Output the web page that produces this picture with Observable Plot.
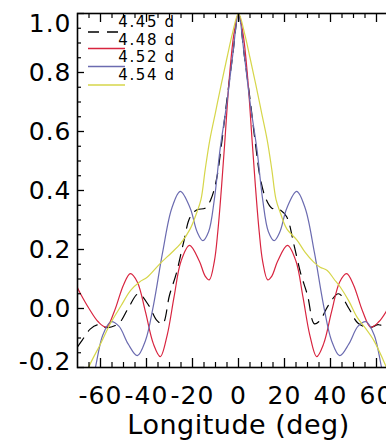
<!DOCTYPE html>
<html>
<head>
<meta charset="utf-8">
<script src="https://cdn.jsdelivr.net/npm/d3@7"></script>
<script src="https://cdn.jsdelivr.net/npm/@observablehq/plot@0.6"></script>
<style>
  html, body { margin: 0; padding: 0; background: #fff; overflow: hidden; width: 386px; height: 448px; }
  #chart { position: relative; width: 420px; height: 448px; }
</style>
</head>
<body>
<div id="chart"></div>
<script>
// Normalised correlation against longitude for four trial periods
const periods = ["4.45 d", "4.48 d", "4.52 d", "4.54 d"];
const colors  = ["#000000", "#d8243f", "#6b6bb0", "#d6d64a"];

const lon445 = [-70, -68, -64.5, -61, -57, -52, -48, -43.5, -39, -35.5, -33, -30, -27, -24, -21, -18, -14.5, -12, -9.5, -7.5, -5, -2.5,
                0, 2.5, 5, 7.5, 9.5, 12, 14.5, 18, 21, 24, 27, 30, 33, 35.5, 39, 43.5, 48, 52, 57, 61, 64.5, 68, 70];
const val445 = [-0.13, -0.108, -0.07, -0.055, -0.065, -0.05, 0.0, 0.05, 0.01, -0.04, -0.052, 0.045, 0.12, 0.22, 0.31, 0.335, 0.34, 0.37, 0.44, 0.55, 0.71, 0.86,
                1.0, 0.86, 0.71, 0.55, 0.44, 0.37, 0.34, 0.335, 0.31, 0.22, 0.12, 0.045, -0.052, -0.04, 0.01, 0.05, 0.0, -0.05, -0.065, -0.055, -0.07, -0.108, -0.13];

const lon448 = [-70, -68.7, -65, -61, -57.5, -54, -50, -47, -44, -40.5, -37, -34, -31, -28, -25, -21.3, -17, -14.5, -12.7, -10.5, -9, -7.5, -6, -4, -2,
                0, 2, 4, 6, 7.5, 9, 10.5, 12.7, 14.5, 17, 21.3, 25, 28, 31, 34, 37, 40.5, 44, 47, 50, 54, 57.5, 61, 65, 70];
const val448 = [0.07, 0.05, 0.0, -0.045, -0.063, -0.01, 0.08, 0.118, 0.09, -0.01, -0.12, -0.163, -0.09, 0.04, 0.16, 0.214, 0.16, 0.11, 0.097, 0.16, 0.26, 0.4, 0.56, 0.78, 0.93,
                1.0, 0.93, 0.78, 0.56, 0.4, 0.26, 0.16, 0.097, 0.11, 0.16, 0.214, 0.16, 0.04, -0.09, -0.163, -0.12, -0.01, 0.09, 0.118, 0.08, -0.01, -0.063, -0.045, 0.0, 0.07];

const lon452 = [-70, -65, -62.2, -59, -55.5, -52, -48, -44, -40.5, -37, -33, -29, -25.3, -21, -18, -15.5, -13, -10.5, -8, -5, -2.5,
                0, 2.5, 5, 8, 10.5, 13, 15.5, 18, 21, 25.3, 29, 33, 37, 40.5, 44, 48, 52, 55.5, 59, 62.2, 65, 70];
const val452 = [-0.45, -0.3, -0.2, -0.09, -0.045, -0.06, -0.12, -0.16, -0.11, 0.01, 0.19, 0.34, 0.397, 0.34, 0.26, 0.23, 0.26, 0.37, 0.54, 0.70, 0.86,
                1.0, 0.86, 0.70, 0.54, 0.37, 0.26, 0.23, 0.26, 0.34, 0.397, 0.34, 0.19, 0.01, -0.11, -0.16, -0.12, -0.06, -0.045, -0.09, -0.2, -0.3, -0.45];

const lon454 = [-70, -65.2, -60, -55.7, -51, -47, -43, -39.7, -34, -29, -25.2, -21, -18.3, -16.3, -14.5, -12.5, -10, -7.5, -5, -2.7,
                0, 2.7, 5, 7.5, 10, 12.5, 14.5, 16.3, 18.3, 21, 25.5, 29, 32.7, 35.5, 38.6, 41.5, 44.3, 48, 51.6, 55, 58.8, 63, 67, 70];
const val454 = [-0.3, -0.2, -0.12, -0.051, 0.01, 0.061, 0.09, 0.106, 0.153, 0.19, 0.22, 0.27, 0.322, 0.37, 0.47, 0.57, 0.665, 0.76, 0.85, 0.93,
                1.0, 0.93, 0.85, 0.76, 0.665, 0.57, 0.47, 0.37, 0.322, 0.27, 0.231, 0.19, 0.157, 0.14, 0.129, 0.1, 0.072, 0.025, -0.03, -0.065, -0.108, -0.176, -0.25, -0.3];

const xTicks = [-60, -40, -20, 0, 20, 40, 60];
const xMinorTicks = [-65, -55, -50, -45, -35, -30, -25, -15, -10, -5, 5, 10, 15, 25, 30, 35, 45, 50, 55, 65];
const yTicks = [-0.2, 0.0, 0.2, 0.4, 0.6, 0.8, 1.0];
const yMinorTicks = [-0.15, -0.1, -0.05, 0.05, 0.1, 0.15, 0.25, 0.3, 0.35, 0.45, 0.5, 0.55, 0.65, 0.7, 0.75, 0.85, 0.9, 0.95];

const series = [
  {label: periods[0], color: colors[0], dash: "11,8", rows: lon445.map((x, i) => ({lon: x, val: val445[i]}))},
  {label: periods[1], color: colors[1], dash: null,   rows: lon448.map((x, i) => ({lon: x, val: val448[i]}))},
  {label: periods[2], color: colors[2], dash: null,   rows: lon452.map((x, i) => ({lon: x, val: val452[i]}))},
  {label: periods[3], color: colors[3], dash: null,   rows: lon454.map((x, i) => ({lon: x, val: val454[i]}))}
];

const W = 420, H = 448;
const mL = 77, mR = 21, mT = 13, mB = 81;
const plotW = W - mL - mR, plotH = H - mT - mB;
const font = "'DejaVu Sans', sans-serif";

const fmtY = d => d.toFixed(1);

const chart = Plot.plot({
  width: W, height: H,
  marginLeft: mL, marginRight: mR, marginTop: mT, marginBottom: mB,
  x: {domain: [-70, 70]},
  y: {domain: [-0.2, 1.0]},
  style: {fontFamily: font, fontSize: "25px", background: "#fff", color: "#000", overflow: "visible"},
  marks: [
    ...series.map(s => Plot.line(s.rows, {
      x: "lon", y: "val", stroke: s.color, strokeWidth: 1.2,
      strokeDasharray: s.dash, curve: "catmull-rom", clip: true
    })),
    Plot.frame({stroke: "#000", strokeWidth: 1.6}),
    // inward ticks on bottom and top
    Plot.tickX(xTicks, {x: d => d, insetTop: plotH - 9, stroke: "#000", strokeWidth: 1.3}),
    Plot.tickX(xTicks, {x: d => d, insetBottom: plotH - 9, stroke: "#000", strokeWidth: 1.3}),
    Plot.tickX(xMinorTicks, {x: d => d, insetTop: plotH - 5, stroke: "#000", strokeWidth: 1.2}),
    Plot.tickX(xMinorTicks, {x: d => d, insetBottom: plotH - 5, stroke: "#000", strokeWidth: 1.2}),
    // inward ticks on left (and right)
    Plot.tickY(yTicks, {y: d => d, insetRight: plotW - 7, stroke: "#000", strokeWidth: 1.3}),
    Plot.tickY(yTicks, {y: d => d, insetLeft: plotW - 7, stroke: "#000", strokeWidth: 1.3}),
    Plot.tickY(yMinorTicks, {y: d => d, insetRight: plotW - 4, stroke: "#000", strokeWidth: 1.2}),
    Plot.tickY(yMinorTicks, {y: d => d, insetLeft: plotW - 4, stroke: "#000", strokeWidth: 1.2}),
    Plot.axisX(xTicks, {anchor: "bottom", tickSize: 0, tickPadding: 19, tickFormat: d => String(d), label: null,
      fontSize: 25, fontFamily: font, fill: "#000"}),
    Plot.axisY(yTicks.filter(v => v > -0.1 && v < 0.9), {anchor: "left", tickSize: 0, tickPadding: 6, tickFormat: fmtY, label: null,
      fontSize: 25, fontFamily: font, fill: "#000"}),
    Plot.axisY([1.0], {anchor: "left", tickSize: 0, tickPadding: 6, tickFormat: fmtY, label: null, dy: 10,
      fontSize: 25, fontFamily: font, fill: "#000"}),
    Plot.axisY([-0.2], {anchor: "left", tickSize: 0, tickPadding: 6, tickFormat: fmtY, label: null, dy: -6,
      fontSize: 25, fontFamily: font, fill: "#000"}),
    Plot.text(["Longitude (deg)"], {frameAnchor: "bottom", dy: 66, fontSize: 27, fontFamily: font, fill: "#000"})
  ]
});

document.getElementById("chart").appendChild(chart);

// letter spacing for the wide tick-label look
d3.select(chart).selectAll("[aria-label='x-axis tick label'] text, [aria-label='y-axis tick label'] text")
  .attr("letter-spacing", 1);
d3.select(chart).selectAll("[aria-label='text'] text").attr("letter-spacing", 0.5);

// legend in the upper-left corner of the frame
const legendLineY = [32, 48.5, 66.5, 85];
const legendTextY = [27, 44.5, 62, 79.5];
const lg = d3.select(chart).append("g").attr("class", "legend");
series.forEach((s, i) => {
  lg.append("line")
    .attr("x1", 88).attr("x2", 125)
    .attr("y1", legendLineY[i]).attr("y2", legendLineY[i])
    .attr("stroke", s.color).attr("stroke-width", 1.3)
    .attr("stroke-dasharray", s.dash);
  lg.append("text")
    .attr("x", 147).attr("y", legendTextY[i])
    .attr("font-family", font).attr("font-size", 15)
    .attr("letter-spacing", 1.6).attr("fill", "#000")
    .text(s.label);
});
</script>
</body>
</html>
